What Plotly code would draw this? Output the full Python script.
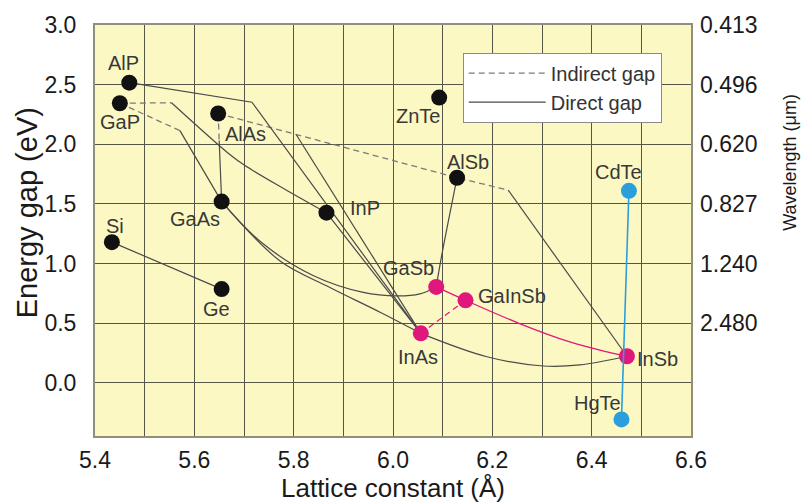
import plotly.graph_objects as go

# Binary compounds: lattice constant (Å) and band gap (eV)
compounds = ["AlP", "GaP", "AlAs", "GaAs", "InP", "Si", "Ge", "ZnTe", "AlSb"]
comp_a = [5.469, 5.450, 5.648, 5.655, 5.866, 5.434, 5.655, 6.093, 6.129]
comp_eg = [2.516, 2.344, 2.258, 1.519, 1.426, 1.179, 0.785, 2.391, 1.719]

# Antimonide / arsenide system highlighted in magenta
ir_names = ["GaSb", "GaInSb", "InAs", "InSb"]
ir_a = [6.087, 6.146, 6.056, 6.471]
ir_eg = [0.803, 0.691, 0.414, 0.222]

# II-VI mercury/cadmium telluride end points
hgcd_names = ["CdTe", "HgTe"]
hgcd_a = [6.475, 6.460]
hgcd_eg = [1.609, -0.308]

# Alloy tie lines (lattice constant, band gap) along each composition path
# indirect-gap portions
gap_gaP_gaInP_a = [5.450, 5.554]
gap_gaP_gaInP_eg = [2.344, 2.348]
gap_gaP_gaAsP_a = [5.450, 5.571]
gap_gaP_gaAsP_eg = [2.344, 2.114]
gap_alAs_alGaAs_a = [5.648, 5.650]
gap_alAs_alGaAs_eg = [2.258, 2.031]
gap_alAs_alSb_a = [5.648, 5.805, 6.129, 6.232]
gap_alAs_alSb_eg = [2.258, 2.082, 1.719, 1.615]

# direct-gap portions
dir_alP_inAs_a = [5.469, 5.716, 6.056]
dir_alP_inAs_eg = [2.516, 2.352, 0.414]
dir_alInAs_a = [5.805, 6.056]
dir_alInAs_eg = [2.082, 0.414]
dir_gaInP_a = [5.554, 5.672, 5.702, 5.783, 5.866]
dir_gaInP_eg = [2.348, 1.912, 1.821, 1.621, 1.426]
dir_gaAsP_a = [5.571, 5.655]
dir_gaAsP_eg = [2.114, 1.519]
dir_alGaAs_a = [5.650, 5.655]
dir_alGaAs_eg = [2.031, 1.519]
dir_inAsP_a = [5.866, 6.056]
dir_inAsP_eg = [1.426, 0.414]
dir_gaAsSb_a = [5.655, 5.736, 5.839, 5.940, 6.008, 6.054, 6.087]
dir_gaAsSb_eg = [1.519, 1.173, 0.899, 0.757, 0.728, 0.745, 0.803]
dir_inGaAs_a = [5.655, 5.772, 5.873, 5.974, 6.056]
dir_inGaAs_eg = [1.519, 1.023, 0.799, 0.591, 0.414]
dir_inAsSb_a = [6.056, 6.189, 6.302, 6.376, 6.471]
dir_inAsSb_eg = [0.414, 0.218, 0.140, 0.149, 0.222]
dir_alGaSb_a = [6.129, 6.098, 6.087]
dir_alGaSb_eg = [1.719, 1.065, 0.803]
dir_alInSb_a = [6.232, 6.471]
dir_alInSb_eg = [1.615, 0.222]
dir_siGe_a = [5.434, 5.655]
dir_siGe_eg = [1.179, 0.785]

# magenta GaInSb paths
gainsb_a = [6.087, 6.146, 6.256, 6.356, 6.431, 6.471]
gainsb_eg = [0.803, 0.691, 0.494, 0.342, 0.259, 0.222]
inas_gainsb_a = [6.056, 6.146]
inas_gainsb_eg = [0.414, 0.691]

# HgCdTe path
hgcdte_a = [6.475, 6.460]
hgcdte_eg = [1.609, -0.308]

# axis ticks
x_ticks = [5.4, 5.6, 5.8, 6.0, 6.2, 6.4, 6.6]
eg_ticks = [3.0, 2.5, 2.0, 1.5, 1.0, 0.5, 0.0]
wl_eg_ticks = [3.0, 2.5, 2.0, 1.5, 1.0, 0.5]

# label placement (pixel offsets from each point, +y is up)
label_shift = {
    "AlP": (-6, 20), "GaP": (0, -19), "AlAs": (27, -21), "GaAs": (-27, -17),
    "InP": (39, 5), "Si": (3, 16), "Ge": (-5, -20), "ZnTe": (-21, -18),
    "AlSb": (11, 16), "CdTe": (-10, 19), "GaSb": (-28, 19), "GaInSb": (46, 4),
    "InAs": (-3, -24), "InSb": (31, -3), "HgTe": (-24, 16),
}

FONT = "Liberation Sans, Arial, sans-serif"
INDIRECT = "#7a7a7a"
DIRECT = "#4a4a4a"
MAGENTA = "#e0177d"
CYAN = "#2a9fdc"
TXT = "#1a1a1a"

fig = go.Figure()

indirect_paths = [
    (gap_gaP_gaInP_a, gap_gaP_gaInP_eg),
    (gap_gaP_gaAsP_a, gap_gaP_gaAsP_eg),
    (gap_alAs_alGaAs_a, gap_alAs_alGaAs_eg),
    (gap_alAs_alSb_a, gap_alAs_alSb_eg),
]
for i, (xa, ya) in enumerate(indirect_paths):
    fig.add_trace(go.Scatter(
        x=xa, y=ya, mode="lines", name="Indirect gap", legendgroup="ind",
        showlegend=(i == 0), hoverinfo="skip",
        line=dict(color=INDIRECT, width=1.3, dash="6px,4px")))

straight_direct = [
    (dir_alP_inAs_a, dir_alP_inAs_eg),
    (dir_alInAs_a, dir_alInAs_eg),
    (dir_gaAsP_a, dir_gaAsP_eg),
    (dir_alGaAs_a, dir_alGaAs_eg),
    (dir_inAsP_a, dir_inAsP_eg),
    (dir_alInSb_a, dir_alInSb_eg),
    (dir_siGe_a, dir_siGe_eg),
]
curved_direct = [
    (dir_gaInP_a, dir_gaInP_eg),
    (dir_gaAsSb_a, dir_gaAsSb_eg),
    (dir_inGaAs_a, dir_inGaAs_eg),
    (dir_inAsSb_a, dir_inAsSb_eg),
    (dir_alGaSb_a, dir_alGaSb_eg),
]
for i, (xa, ya) in enumerate(straight_direct):
    fig.add_trace(go.Scatter(
        x=xa, y=ya, mode="lines", name="Direct gap", legendgroup="dir",
        showlegend=(i == 0), hoverinfo="skip",
        line=dict(color=DIRECT, width=1.2)))
for xa, ya in curved_direct:
    fig.add_trace(go.Scatter(
        x=xa, y=ya, mode="lines", showlegend=False, hoverinfo="skip",
        line=dict(color=DIRECT, width=1.2, shape="spline", smoothing=1.0)))

fig.add_trace(go.Scatter(
    x=inas_gainsb_a, y=inas_gainsb_eg, mode="lines", showlegend=False,
    line=dict(color=MAGENTA, width=1.2, dash="6px,4px")))
fig.add_trace(go.Scatter(
    x=gainsb_a, y=gainsb_eg, mode="lines", showlegend=False,
    line=dict(color=MAGENTA, width=1.3, shape="spline", smoothing=1.0)))
# HgCdTe line, drawn on the wavelength axis (same energy range) so that axis renders
fig.add_trace(go.Scatter(
    x=hgcdte_a, y=hgcdte_eg, mode="lines", yaxis="y2", showlegend=False,
    hoverinfo="skip", line=dict(color=CYAN, width=1.6)))

# compound markers
fig.add_trace(go.Scatter(x=comp_a, y=comp_eg, mode="markers", showlegend=False,
                         text=compounds, marker=dict(size=16, color="#111111")))
fig.add_trace(go.Scatter(x=ir_a, y=ir_eg, mode="markers", showlegend=False,
                         text=ir_names, marker=dict(size=16, color=MAGENTA)))
fig.add_trace(go.Scatter(x=hgcd_a, y=hgcd_eg, mode="markers", showlegend=False,
                         text=hgcd_names, marker=dict(size=16, color=CYAN)))

for names, xs, ys in [(compounds, comp_a, comp_eg), (ir_names, ir_a, ir_eg),
                      (hgcd_names, hgcd_a, hgcd_eg)]:
    for n, xv, yv in zip(names, xs, ys):
        dx, dy = label_shift[n]
        fig.add_annotation(x=xv, y=yv, text=n, showarrow=False,
                           xshift=dx, yshift=dy,
                           font=dict(family=FONT, size=20, color="#383838"))

# axis titles for the two energy / wavelength scales
fig.add_annotation(xref="paper", yref="paper", x=-0.114, y=0.542,
                   xanchor="center", yanchor="middle",
                   text="Energy gap (eV)", textangle=-90, showarrow=False,
                   font=dict(family=FONT, size=29, color=TXT))
fig.add_annotation(xref="paper", yref="paper", x=1.166, y=0.667,
                   xanchor="center", yanchor="middle",
                   text="Wavelength (μm)", textangle=-90, showarrow=False,
                   font=dict(family=FONT, size=18, color=TXT))

# secondary axis: wavelength = 1.24 / E
wl_text = ["%.3f" % (1.24 / e) for e in wl_eg_ticks]

grid_col = "#55554a"
fig.update_layout(
    width=804, height=503,
    margin=dict(l=95, r=113, t=25, b=63),
    paper_bgcolor="white",
    plot_bgcolor="#fcf8c4",
    font=dict(family=FONT, color="#222222"),
    xaxis=dict(
        range=[5.4, 6.6], tickvals=x_ticks, ticktext=["%.1f" % v for v in x_ticks],
        showgrid=True, gridcolor=grid_col, gridwidth=1,
        minor=dict(dtick=0.1, tick0=5.4, showgrid=True, gridcolor=grid_col, gridwidth=1),
        showline=True, mirror=True, linecolor="#8f8f7c", linewidth=2,
        zeroline=False, ticks="", ticklabelstandoff=2,
        tickfont=dict(size=23, color=TXT),
        title=dict(text="Lattice constant (Å)", font=dict(size=26, color=TXT),
                   standoff=0),
    ),
    yaxis=dict(
        range=[-0.447, 3.0], tickvals=eg_ticks, ticktext=["%.1f" % v for v in eg_ticks],
        showgrid=True, gridcolor=grid_col, gridwidth=1,
        showline=True, mirror=True, linecolor="#8f8f7c", linewidth=2,
        zeroline=False, ticks="", ticklabelstandoff=12,
        tickfont=dict(size=23, color=TXT),
    ),
    yaxis2=dict(
        range=[-0.447, 3.0], overlaying="y", side="right",
        tickvals=wl_eg_ticks, ticktext=wl_text, showgrid=False,
        zeroline=False, ticks="", ticklabelstandoff=8,
        tickfont=dict(size=23, color=TXT),
    ),
    legend=dict(
        x=0.617, y=0.933, xanchor="left", yanchor="top",
        bgcolor="white", bordercolor="#8a8a8a", borderwidth=1,
        font=dict(family=FONT, size=20, color="#333333"),
        itemwidth=77, tracegroupgap=0,
    ),
)

fig.write_html("out.html")
